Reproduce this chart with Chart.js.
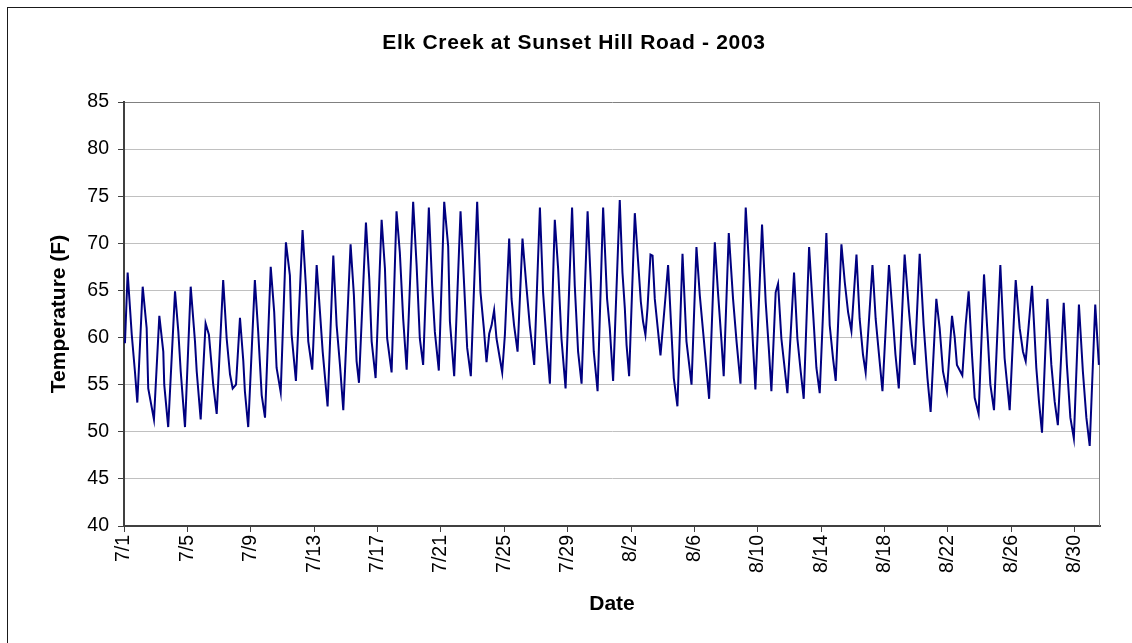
<!DOCTYPE html>
<html>
<head>
<meta charset="utf-8">
<title>Elk Creek at Sunset Hill Road - 2003</title>
<script src="https://cdn.jsdelivr.net/npm/chart.js@4.4.1/dist/chart.umd.min.js"></script>
<style>
  html, body { margin: 0; padding: 0; background: #fff; }
  #wrap { position: relative; width: 1132px; height: 643px; overflow: hidden; }
  #frame { position: absolute; left: 7px; top: 7px; right: 0; bottom: 0;
           border-top: 1px solid #1a1a1a; border-left: 1px solid #1a1a1a; }
  #tempChart { position: absolute; left: 0; top: 0; }
</style>
</head>
<body>
<div id="wrap">
  <div id="frame"></div>
  <canvas id="tempChart" width="1132" height="643"></canvas>
</div>
<script>
// time in days since 7/1 00:00
const timeDays = [
  0.06,0.23,0.49,0.69,0.84,1.18,1.43,1.53,1.89,2.23,
  2.48,2.54,2.79,3.22,3.43,3.58,3.85,4.21,4.48,4.59,
  4.84,5.15,5.36,5.63,5.85,6.26,6.48,6.69,6.86,7.07,
  7.32,7.53,7.63,7.84,8.26,8.47,8.69,8.90,9.26,9.48,
  9.63,9.89,10.22,10.47,10.58,10.85,11.27,11.48,11.63,11.88,
  12.16,12.32,12.54,12.85,13.21,13.42,13.63,13.84,14.30,14.51,
  14.68,14.83,15.27,15.48,15.63,15.88,16.26,16.47,16.61,16.89,
  17.20,17.41,17.62,17.84,18.25,18.47,18.67,18.88,19.24,19.45,
  19.62,19.87,20.21,20.46,20.57,20.84,21.24,21.45,21.66,21.89,
  22.29,22.50,22.71,22.88,23.05,23.20,23.36,23.51,23.72,23.87,
  24.04,24.31,24.46,24.62,24.84,25.15,25.41,25.61,25.89,26.25,
  26.45,26.67,26.88,27.19,27.40,27.61,27.87,28.28,28.45,28.66,
  28.88,29.26,29.46,29.65,29.89,30.24,30.49,30.66,30.87,31.29,
  31.46,31.61,31.72,31.88,32.24,32.45,32.62,32.76,32.91,33.04,
  33.23,33.36,33.50,33.71,33.86,34.13,34.34,34.51,34.70,34.93,
  35.25,35.50,35.82,36.13,36.34,36.59,36.93,37.29,37.49,37.71,
  37.85,38.17,38.44,38.66,38.91,39.24,39.45,39.70,39.85,40.27,
  40.50,40.71,40.86,41.13,41.28,41.49,41.87,42.29,42.50,42.71,
  42.90,43.24,43.49,43.70,43.91,44.33,44.54,44.75,44.92,45.28,
  45.49,45.70,45.91,46.23,46.43,46.64,46.81,47.24,47.44,47.65,
  47.87,48.28,48.50,48.69,48.90,49.27,49.55,49.73,49.90,50.22,
  50.47,50.71,50.91,51.27,51.48,51.69,51.94,52.26,52.43,52.57,
  52.91,53.12,53.31,53.52,53.69,53.94,54.28,54.53,54.68,54.91,
  55.31,55.58,55.90,56.28,56.53,56.74,56.91,57.31,57.58,57.75,
  57.94,58.28,58.53,58.74,58.94,59.31,59.51,59.73,59.95,60.27,
  60.52,60.74,60.95,61.30,61.53
];

// water temperature (F)
const tempF = [
  59.4,66.9,60.3,56.4,53.1,65.4,61.0,54.6,51.3,62.3,
  58.5,55.0,50.5,64.9,60.6,56.4,50.5,65.4,59.6,56.4,
  51.3,61.5,60.3,55.0,51.9,66.1,59.9,56.1,54.6,55.0,
  62.1,57.5,54.3,50.5,66.1,60.6,53.9,51.5,67.5,62.7,
  56.8,54.2,70.1,66.6,60.3,55.4,71.4,65.5,59.6,56.6,
  67.7,63.9,58.5,52.7,68.7,61.3,57.1,52.3,69.9,64.5,
  57.5,55.2,72.2,66.2,59.6,55.7,72.5,67.3,59.9,56.3,
  73.4,69.0,62.0,56.6,74.4,67.6,59.9,57.1,73.8,65.5,
  60.6,56.5,74.4,69.7,61.7,55.9,73.4,66.2,58.9,55.9,
  74.4,64.8,61.0,57.4,60.4,61.3,62.9,59.9,57.8,56.3,
  60.3,70.5,64.1,61.3,58.5,70.5,65.2,61.3,57.1,73.8,
  64.8,59.6,55.1,72.5,67.3,59.9,54.6,73.8,65.5,58.5,
  55.1,73.4,65.9,58.5,54.3,73.8,64.1,61.0,55.4,74.6,
  66.9,63.1,59.2,55.9,73.2,68.0,63.8,61.7,60.3,63.1,
  68.8,68.7,64.1,60.6,58.1,63.4,67.7,62.0,55.7,52.7,
  68.9,59.6,55.0,69.6,64.5,59.9,53.5,70.1,64.8,59.6,
  55.9,71.1,64.1,59.6,55.1,73.8,67.6,59.2,54.5,72.0,
  63.8,58.5,54.3,64.8,65.7,59.9,54.1,66.9,59.9,56.4,
  53.5,69.6,62.7,56.8,54.1,71.1,61.3,57.8,55.4,69.9,
  65.9,62.7,60.7,68.8,62.0,58.2,56.3,67.7,62.0,58.2,
  54.3,67.7,62.7,58.2,54.6,68.8,62.7,59.2,57.1,68.9,
  61.3,55.7,52.1,64.1,61.0,56.4,54.3,62.3,60.0,57.1,
  56.0,61.3,64.9,58.2,53.6,51.9,66.7,59.6,55.0,52.3,
  67.7,57.8,52.3,66.1,61.0,58.5,57.5,65.5,56.8,53.2,
  49.9,64.1,57.1,53.2,50.7,63.7,57.1,51.5,49.3,63.5,
  56.4,51.5,48.5,63.5,57.1
];

const tickDays = [0,4,8,12,16,20,24,28,32,36,40,44,48,52,56,60];
const tickLabels = ['7/1','7/5','7/9','7/13','7/17','7/21','7/25','7/29',
                    '8/2','8/6','8/10','8/14','8/18','8/22','8/26','8/30'];

Chart.defaults.font.family = '"Liberation Sans", Arial, sans-serif';
Chart.defaults.color = '#000';

// title and the grey right edge of the plot area
const excelBits = {
  id: 'excelBits',
  beforeDatasetsDraw(chart) {
    const ctx = chart.ctx, a = chart.chartArea;
    ctx.save();
    ctx.strokeStyle = '#808080';
    ctx.lineWidth = 1;
    ctx.beginPath();
    ctx.moveTo(Math.round(a.right) - 0.5, a.top);
    ctx.lineTo(Math.round(a.right) - 0.5, a.bottom);
    ctx.stroke();
    ctx.restore();
  },
  afterDraw(chart) {
    const ctx = chart.ctx;
    ctx.save();
    ctx.fillStyle = '#000';
    ctx.font = 'bold 21px "Liberation Sans", Arial, sans-serif';
    ctx.letterSpacing = '0.7px';
    ctx.textAlign = 'center';
    ctx.textBaseline = 'middle';
    ctx.fillText('Elk Creek at Sunset Hill Road - 2003', 574, 43);
    ctx.restore();
  }
};

var tempChart = document.getElementById('tempChart').getContext('2d');
var chartTemp = new Chart(tempChart, {
  type: 'line',
  data: {
    datasets: [{
      label: 'Temperature',
      data: timeDays.map((d, i) => ({ x: d, y: tempF[i] })),
      borderColor: '#000080',
      borderWidth: 2,
      pointRadius: 0,
      fill: false,
      tension: 0
    }]
  },
  options: {
    responsive: false,
    animation: false,
    layout: { padding: { top: 102, right: 32, left: 0, bottom: 0 } },
    plugins: { legend: { display: false }, tooltip: { enabled: false } },
    scales: {
      x: {
        type: 'linear',
        min: 0,
        max: 61.6,
        afterBuildTicks: (s) => { s.ticks = tickDays.map(v => ({ value: v })); },
        afterFit: (s) => { s.height = 117; },
        ticks: {
          autoSkip: false,
          minRotation: 90,
          maxRotation: 90,
          padding: 3,
          font: { size: 19.5 },
          callback: (v, i) => tickLabels[i]
        },
        grid: { drawOnChartArea: false, tickLength: 6, tickColor: '#404040' },
        border: { color: '#404040', width: 2 },
        title: { display: true, text: 'Date', font: { size: 21, weight: 'bold' },
                 padding: { top: 0, bottom: 26 } }
      },
      y: {
        min: 40,
        max: 85,
        afterFit: (s) => { s.width = 124; },
        ticks: { stepSize: 5, padding: 9, font: { size: 19.5 } },
        grid: {
          color: (c) => c.tick.value === 85 ? '#808080' : '#c0c0c0',
          tickLength: 6,
          tickColor: '#404040'
        },
        border: { color: '#404040', width: 2 },
        title: { display: true, text: 'Temperature (F)', font: { size: 21, weight: 'bold' },
                 padding: { top: 47, bottom: 0 } }
      }
    }
  },
  plugins: [excelBits]
});
</script>
</body>
</html>
